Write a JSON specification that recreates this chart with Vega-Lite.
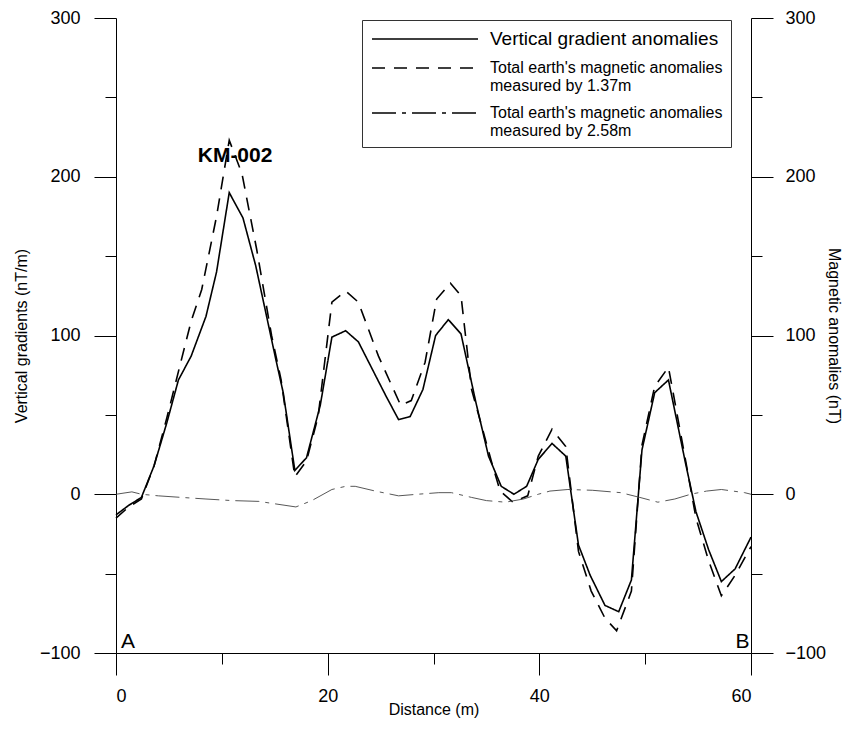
{
  "$schema": "https://vega.github.io/schema/vega-lite/v6.json",
  "width": 635,
  "height": 635,
  "autosize": {"type": "none"},
  "padding": {"left": 116, "top": 18, "right": 95, "bottom": 82},
  "background": "white",
  "config": {
    "view": {"stroke": null},
    "font": "Liberation Sans",
    "axis": {"grid": false, "domainColor": "black", "tickColor": "black", "labelColor": "black", "titleColor": "black", "labelFont": "Liberation Sans", "titleFont": "Liberation Sans", "labelFontSize": 18, "titleFontSize": 16, "titleFontWeight": "normal", "domainWidth": 1, "tickWidth": 1}
  },
  "datasets": {
    "lines": [
      {"d": 0, "v": -13, "s": "Vertical gradient anomalies"},
      {"d": 1.2, "v": -7, "s": "Vertical gradient anomalies"},
      {"d": 2.4, "v": -2, "s": "Vertical gradient anomalies"},
      {"d": 3.6, "v": 18, "s": "Vertical gradient anomalies"},
      {"d": 4.8, "v": 45, "s": "Vertical gradient anomalies"},
      {"d": 5.9, "v": 72, "s": "Vertical gradient anomalies"},
      {"d": 7.1, "v": 87, "s": "Vertical gradient anomalies"},
      {"d": 8.5, "v": 112, "s": "Vertical gradient anomalies"},
      {"d": 9.5, "v": 140, "s": "Vertical gradient anomalies"},
      {"d": 10.7, "v": 190, "s": "Vertical gradient anomalies"},
      {"d": 12.0, "v": 174, "s": "Vertical gradient anomalies"},
      {"d": 13.2, "v": 144, "s": "Vertical gradient anomalies"},
      {"d": 14.2, "v": 113, "s": "Vertical gradient anomalies"},
      {"d": 15.1, "v": 85, "s": "Vertical gradient anomalies"},
      {"d": 15.8, "v": 64, "s": "Vertical gradient anomalies"},
      {"d": 16.9, "v": 15, "s": "Vertical gradient anomalies"},
      {"d": 18.0, "v": 23, "s": "Vertical gradient anomalies"},
      {"d": 19.3, "v": 56, "s": "Vertical gradient anomalies"},
      {"d": 20.4, "v": 99, "s": "Vertical gradient anomalies"},
      {"d": 21.7, "v": 103, "s": "Vertical gradient anomalies"},
      {"d": 22.9, "v": 96, "s": "Vertical gradient anomalies"},
      {"d": 24.2, "v": 79, "s": "Vertical gradient anomalies"},
      {"d": 25.5, "v": 62, "s": "Vertical gradient anomalies"},
      {"d": 26.7, "v": 47, "s": "Vertical gradient anomalies"},
      {"d": 27.8, "v": 49, "s": "Vertical gradient anomalies"},
      {"d": 29.0, "v": 66, "s": "Vertical gradient anomalies"},
      {"d": 30.2, "v": 100, "s": "Vertical gradient anomalies"},
      {"d": 31.4, "v": 110, "s": "Vertical gradient anomalies"},
      {"d": 32.6, "v": 101, "s": "Vertical gradient anomalies"},
      {"d": 34.0, "v": 58, "s": "Vertical gradient anomalies"},
      {"d": 35.2, "v": 24, "s": "Vertical gradient anomalies"},
      {"d": 36.4, "v": 5, "s": "Vertical gradient anomalies"},
      {"d": 37.6, "v": 0, "s": "Vertical gradient anomalies"},
      {"d": 38.8, "v": 5, "s": "Vertical gradient anomalies"},
      {"d": 39.9, "v": 22, "s": "Vertical gradient anomalies"},
      {"d": 41.2, "v": 32, "s": "Vertical gradient anomalies"},
      {"d": 42.5, "v": 24, "s": "Vertical gradient anomalies"},
      {"d": 43.7, "v": -32, "s": "Vertical gradient anomalies"},
      {"d": 44.8, "v": -51, "s": "Vertical gradient anomalies"},
      {"d": 46.2, "v": -70, "s": "Vertical gradient anomalies"},
      {"d": 47.5, "v": -74, "s": "Vertical gradient anomalies"},
      {"d": 48.7, "v": -54, "s": "Vertical gradient anomalies"},
      {"d": 49.7, "v": 28, "s": "Vertical gradient anomalies"},
      {"d": 50.9, "v": 64, "s": "Vertical gradient anomalies"},
      {"d": 52.2, "v": 72, "s": "Vertical gradient anomalies"},
      {"d": 53.8, "v": 20, "s": "Vertical gradient anomalies"},
      {"d": 54.8, "v": -11, "s": "Vertical gradient anomalies"},
      {"d": 56.0, "v": -35, "s": "Vertical gradient anomalies"},
      {"d": 57.2, "v": -55, "s": "Vertical gradient anomalies"},
      {"d": 58.5, "v": -47, "s": "Vertical gradient anomalies"},
      {"d": 60, "v": -27, "s": "Vertical gradient anomalies"},

      {"d": 0, "v": -15, "s": "Total earth's magnetic anomalies|measured by 1.37m"},
      {"d": 1.2, "v": -8, "s": "Total earth's magnetic anomalies|measured by 1.37m"},
      {"d": 2.4, "v": -3, "s": "Total earth's magnetic anomalies|measured by 1.37m"},
      {"d": 3.6, "v": 18, "s": "Total earth's magnetic anomalies|measured by 1.37m"},
      {"d": 4.8, "v": 48, "s": "Total earth's magnetic anomalies|measured by 1.37m"},
      {"d": 6.0, "v": 80, "s": "Total earth's magnetic anomalies|measured by 1.37m"},
      {"d": 7.1, "v": 109, "s": "Total earth's magnetic anomalies|measured by 1.37m"},
      {"d": 8.1, "v": 129, "s": "Total earth's magnetic anomalies|measured by 1.37m"},
      {"d": 9.5, "v": 175, "s": "Total earth's magnetic anomalies|measured by 1.37m"},
      {"d": 10.7, "v": 223, "s": "Total earth's magnetic anomalies|measured by 1.37m"},
      {"d": 11.9, "v": 202, "s": "Total earth's magnetic anomalies|measured by 1.37m"},
      {"d": 13.3, "v": 154, "s": "Total earth's magnetic anomalies|measured by 1.37m"},
      {"d": 14.7, "v": 100, "s": "Total earth's magnetic anomalies|measured by 1.37m"},
      {"d": 15.6, "v": 72, "s": "Total earth's magnetic anomalies|measured by 1.37m"},
      {"d": 16.9, "v": 11, "s": "Total earth's magnetic anomalies|measured by 1.37m"},
      {"d": 18.0, "v": 21, "s": "Total earth's magnetic anomalies|measured by 1.37m"},
      {"d": 19.1, "v": 49, "s": "Total earth's magnetic anomalies|measured by 1.37m"},
      {"d": 20.4, "v": 121, "s": "Total earth's magnetic anomalies|measured by 1.37m"},
      {"d": 21.7, "v": 128, "s": "Total earth's magnetic anomalies|measured by 1.37m"},
      {"d": 22.9, "v": 121, "s": "Total earth's magnetic anomalies|measured by 1.37m"},
      {"d": 24.8, "v": 87, "s": "Total earth's magnetic anomalies|measured by 1.37m"},
      {"d": 26.9, "v": 56, "s": "Total earth's magnetic anomalies|measured by 1.37m"},
      {"d": 27.9, "v": 59, "s": "Total earth's magnetic anomalies|measured by 1.37m"},
      {"d": 29.2, "v": 83, "s": "Total earth's magnetic anomalies|measured by 1.37m"},
      {"d": 30.3, "v": 123, "s": "Total earth's magnetic anomalies|measured by 1.37m"},
      {"d": 31.6, "v": 133, "s": "Total earth's magnetic anomalies|measured by 1.37m"},
      {"d": 32.6, "v": 125, "s": "Total earth's magnetic anomalies|measured by 1.37m"},
      {"d": 33.6, "v": 66, "s": "Total earth's magnetic anomalies|measured by 1.37m"},
      {"d": 35.5, "v": 20, "s": "Total earth's magnetic anomalies|measured by 1.37m"},
      {"d": 36.3, "v": 2, "s": "Total earth's magnetic anomalies|measured by 1.37m"},
      {"d": 37.5, "v": -5, "s": "Total earth's magnetic anomalies|measured by 1.37m"},
      {"d": 38.9, "v": -1, "s": "Total earth's magnetic anomalies|measured by 1.37m"},
      {"d": 39.9, "v": 24, "s": "Total earth's magnetic anomalies|measured by 1.37m"},
      {"d": 41.2, "v": 41, "s": "Total earth's magnetic anomalies|measured by 1.37m"},
      {"d": 42.5, "v": 30, "s": "Total earth's magnetic anomalies|measured by 1.37m"},
      {"d": 43.7, "v": -36, "s": "Total earth's magnetic anomalies|measured by 1.37m"},
      {"d": 44.9, "v": -61, "s": "Total earth's magnetic anomalies|measured by 1.37m"},
      {"d": 46.2, "v": -78, "s": "Total earth's magnetic anomalies|measured by 1.37m"},
      {"d": 47.3, "v": -86, "s": "Total earth's magnetic anomalies|measured by 1.37m"},
      {"d": 48.7, "v": -61, "s": "Total earth's magnetic anomalies|measured by 1.37m"},
      {"d": 49.7, "v": 31, "s": "Total earth's magnetic anomalies|measured by 1.37m"},
      {"d": 50.9, "v": 68, "s": "Total earth's magnetic anomalies|measured by 1.37m"},
      {"d": 52.2, "v": 80, "s": "Total earth's magnetic anomalies|measured by 1.37m"},
      {"d": 53.8, "v": 22, "s": "Total earth's magnetic anomalies|measured by 1.37m"},
      {"d": 54.8, "v": -15, "s": "Total earth's magnetic anomalies|measured by 1.37m"},
      {"d": 56.0, "v": -42, "s": "Total earth's magnetic anomalies|measured by 1.37m"},
      {"d": 57.2, "v": -64, "s": "Total earth's magnetic anomalies|measured by 1.37m"},
      {"d": 58.5, "v": -51, "s": "Total earth's magnetic anomalies|measured by 1.37m"},
      {"d": 60, "v": -33, "s": "Total earth's magnetic anomalies|measured by 1.37m"},

      {"d": 0, "v": 0, "s": "Total earth's magnetic anomalies|measured by 2.58m"},
      {"d": 1.5, "v": 1.5, "s": "Total earth's magnetic anomalies|measured by 2.58m"},
      {"d": 2.4, "v": 0, "s": "Total earth's magnetic anomalies|measured by 2.58m"},
      {"d": 4.0, "v": -1, "s": "Total earth's magnetic anomalies|measured by 2.58m"},
      {"d": 6.2, "v": -2, "s": "Total earth's magnetic anomalies|measured by 2.58m"},
      {"d": 8.5, "v": -3, "s": "Total earth's magnetic anomalies|measured by 2.58m"},
      {"d": 11.0, "v": -4, "s": "Total earth's magnetic anomalies|measured by 2.58m"},
      {"d": 13.5, "v": -4.5, "s": "Total earth's magnetic anomalies|measured by 2.58m"},
      {"d": 15.0, "v": -6, "s": "Total earth's magnetic anomalies|measured by 2.58m"},
      {"d": 17.0, "v": -8, "s": "Total earth's magnetic anomalies|measured by 2.58m"},
      {"d": 18.5, "v": -4, "s": "Total earth's magnetic anomalies|measured by 2.58m"},
      {"d": 20.4, "v": 3, "s": "Total earth's magnetic anomalies|measured by 2.58m"},
      {"d": 21.7, "v": 5, "s": "Total earth's magnetic anomalies|measured by 2.58m"},
      {"d": 22.6, "v": 5, "s": "Total earth's magnetic anomalies|measured by 2.58m"},
      {"d": 24.5, "v": 2, "s": "Total earth's magnetic anomalies|measured by 2.58m"},
      {"d": 26.7, "v": -1, "s": "Total earth's magnetic anomalies|measured by 2.58m"},
      {"d": 28.5, "v": 0, "s": "Total earth's magnetic anomalies|measured by 2.58m"},
      {"d": 30.5, "v": 1, "s": "Total earth's magnetic anomalies|measured by 2.58m"},
      {"d": 31.7, "v": 1, "s": "Total earth's magnetic anomalies|measured by 2.58m"},
      {"d": 33.6, "v": -2, "s": "Total earth's magnetic anomalies|measured by 2.58m"},
      {"d": 35.0, "v": -4, "s": "Total earth's magnetic anomalies|measured by 2.58m"},
      {"d": 36.8, "v": -5, "s": "Total earth's magnetic anomalies|measured by 2.58m"},
      {"d": 38.5, "v": -3, "s": "Total earth's magnetic anomalies|measured by 2.58m"},
      {"d": 39.9, "v": 0, "s": "Total earth's magnetic anomalies|measured by 2.58m"},
      {"d": 41.0, "v": 2, "s": "Total earth's magnetic anomalies|measured by 2.58m"},
      {"d": 42.7, "v": 3, "s": "Total earth's magnetic anomalies|measured by 2.58m"},
      {"d": 45.0, "v": 2.5, "s": "Total earth's magnetic anomalies|measured by 2.58m"},
      {"d": 47.7, "v": 1, "s": "Total earth's magnetic anomalies|measured by 2.58m"},
      {"d": 49.5, "v": -2, "s": "Total earth's magnetic anomalies|measured by 2.58m"},
      {"d": 51.2, "v": -5, "s": "Total earth's magnetic anomalies|measured by 2.58m"},
      {"d": 52.8, "v": -3, "s": "Total earth's magnetic anomalies|measured by 2.58m"},
      {"d": 54.3, "v": 0, "s": "Total earth's magnetic anomalies|measured by 2.58m"},
      {"d": 55.8, "v": 2, "s": "Total earth's magnetic anomalies|measured by 2.58m"},
      {"d": 57.2, "v": 3, "s": "Total earth's magnetic anomalies|measured by 2.58m"},
      {"d": 59.4, "v": 1, "s": "Total earth's magnetic anomalies|measured by 2.58m"},
      {"d": 60, "v": 0, "s": "Total earth's magnetic anomalies|measured by 2.58m"}
    ],
    "peak": [{"d": 11.25, "v": 213, "t": "KM-002"}],
    "ends": [{"d": 1.13, "v": -93, "t": "A"}, {"d": 59.2, "v": -93, "t": "B"}]
  },
  "data": {"name": "lines"},
  "layer": [
    {
      "transform": [{"filter": "datum.s == 'Vertical gradient anomalies'"}],
      "mark": {"type": "line", "color": "black", "strokeWidth": 1.6},
      "encoding": {
        "x": {"field": "d", "type": "quantitative", "scale": {"domain": [0, 60], "nice": false},
              "axis": {"orient": "bottom", "values": [0, 20, 40, 60], "tickSize": 22, "labelPadding": 12, "title": "Distance (m)", "titlePadding": -4}},
        "y": {"field": "v", "type": "quantitative", "scale": {"domain": [-100, 300], "nice": false, "zero": false},
              "axis": {"orient": "left", "values": [-100, 0, 100, 200, 300], "tickSize": 22, "labelPadding": 14, "title": "Vertical gradients (nT/m)", "titlePadding": 10}},
        "strokeDash": {"field": "s", "type": "nominal",
          "scale": {"domain": ["Vertical gradient anomalies", "Total earth's magnetic anomalies|measured by 1.37m", "Total earth's magnetic anomalies|measured by 2.58m"],
                    "range": [[1, 0], [13, 9], [24, 6, 4, 6]]},
          "legend": {"orient": "none", "legendX": 246, "legendY": 2, "title": null, "strokeColor": "#333", "padding": 8,
                     "symbolType": "M-5.3,0L5.3,0", "symbolSize": 400, "symbolStrokeWidth": 1.4, "symbolStrokeColor": "black", "symbolOffset": 44,
                     "labelExpr": "split(datum.label, '|')", "labelFont": "Liberation Sans", "labelFontSize": {"expr": "datum.index === 0 ? 19 : 16"}, "labelColor": "black",
                     "labelLimit": 400, "labelOffset": 54, "rowPadding": 8}}
      }
    },
    {
      "transform": [{"filter": "datum.s == \"Total earth's magnetic anomalies|measured by 1.37m\""}],
      "mark": {"type": "line", "color": "black", "strokeWidth": 1.6},
      "encoding": {
        "x": {"field": "d", "type": "quantitative", "scale": {"domain": [0, 60], "nice": false},
              "axis": {"orient": "bottom", "values": [10, 30, 50], "tickSize": 11, "labels": false, "domain": false, "title": null}},
        "y": {"field": "v", "type": "quantitative", "scale": {"domain": [-100, 300], "nice": false, "zero": false},
              "axis": {"orient": "left", "values": [-50, 50, 150, 250], "tickSize": 11, "labels": false, "domain": false, "title": null}},
        "strokeDash": {"field": "s", "type": "nominal"}
      }
    },
    {
      "transform": [{"filter": "datum.s == \"Total earth's magnetic anomalies|measured by 2.58m\""}],
      "mark": {"type": "line", "color": "#444", "strokeWidth": 0.9},
      "encoding": {
        "x": {"field": "d", "type": "quantitative", "scale": {"domain": [0, 60], "nice": false}, "axis": null},
        "y": {"field": "v", "type": "quantitative", "scale": {"domain": [-100, 300], "nice": false, "zero": false},
              "axis": {"orient": "right", "values": [-100, 0, 100, 200, 300], "tickSize": 22, "labelPadding": 12, "title": "Magnetic anomalies (nT)", "titlePadding": 0}},
        "strokeDash": {"field": "s", "type": "nominal"}
      }
    },
    {
      "data": {"name": "peak"},
      "mark": {"type": "text", "font": "Liberation Sans", "fontSize": 21, "fontWeight": "bold", "color": "black"},
      "encoding": {
        "x": {"field": "d", "type": "quantitative", "axis": null},
        "y": {"field": "v", "type": "quantitative", "axis": null},
        "text": {"field": "t"}
      }
    },
    {
      "data": {"name": "ends"},
      "mark": {"type": "text", "font": "Liberation Sans", "fontSize": 21, "color": "black"},
      "encoding": {
        "x": {"field": "d", "type": "quantitative", "axis": null},
        "y": {"field": "v", "type": "quantitative",
              "axis": {"orient": "right", "values": [-50, 50, 150, 250], "tickSize": 11, "labels": false, "domain": false, "title": null}},
        "text": {"field": "t"}
      }
    }
  ],
  "resolve": {"axis": {"x": "independent", "y": "independent"}}
}
